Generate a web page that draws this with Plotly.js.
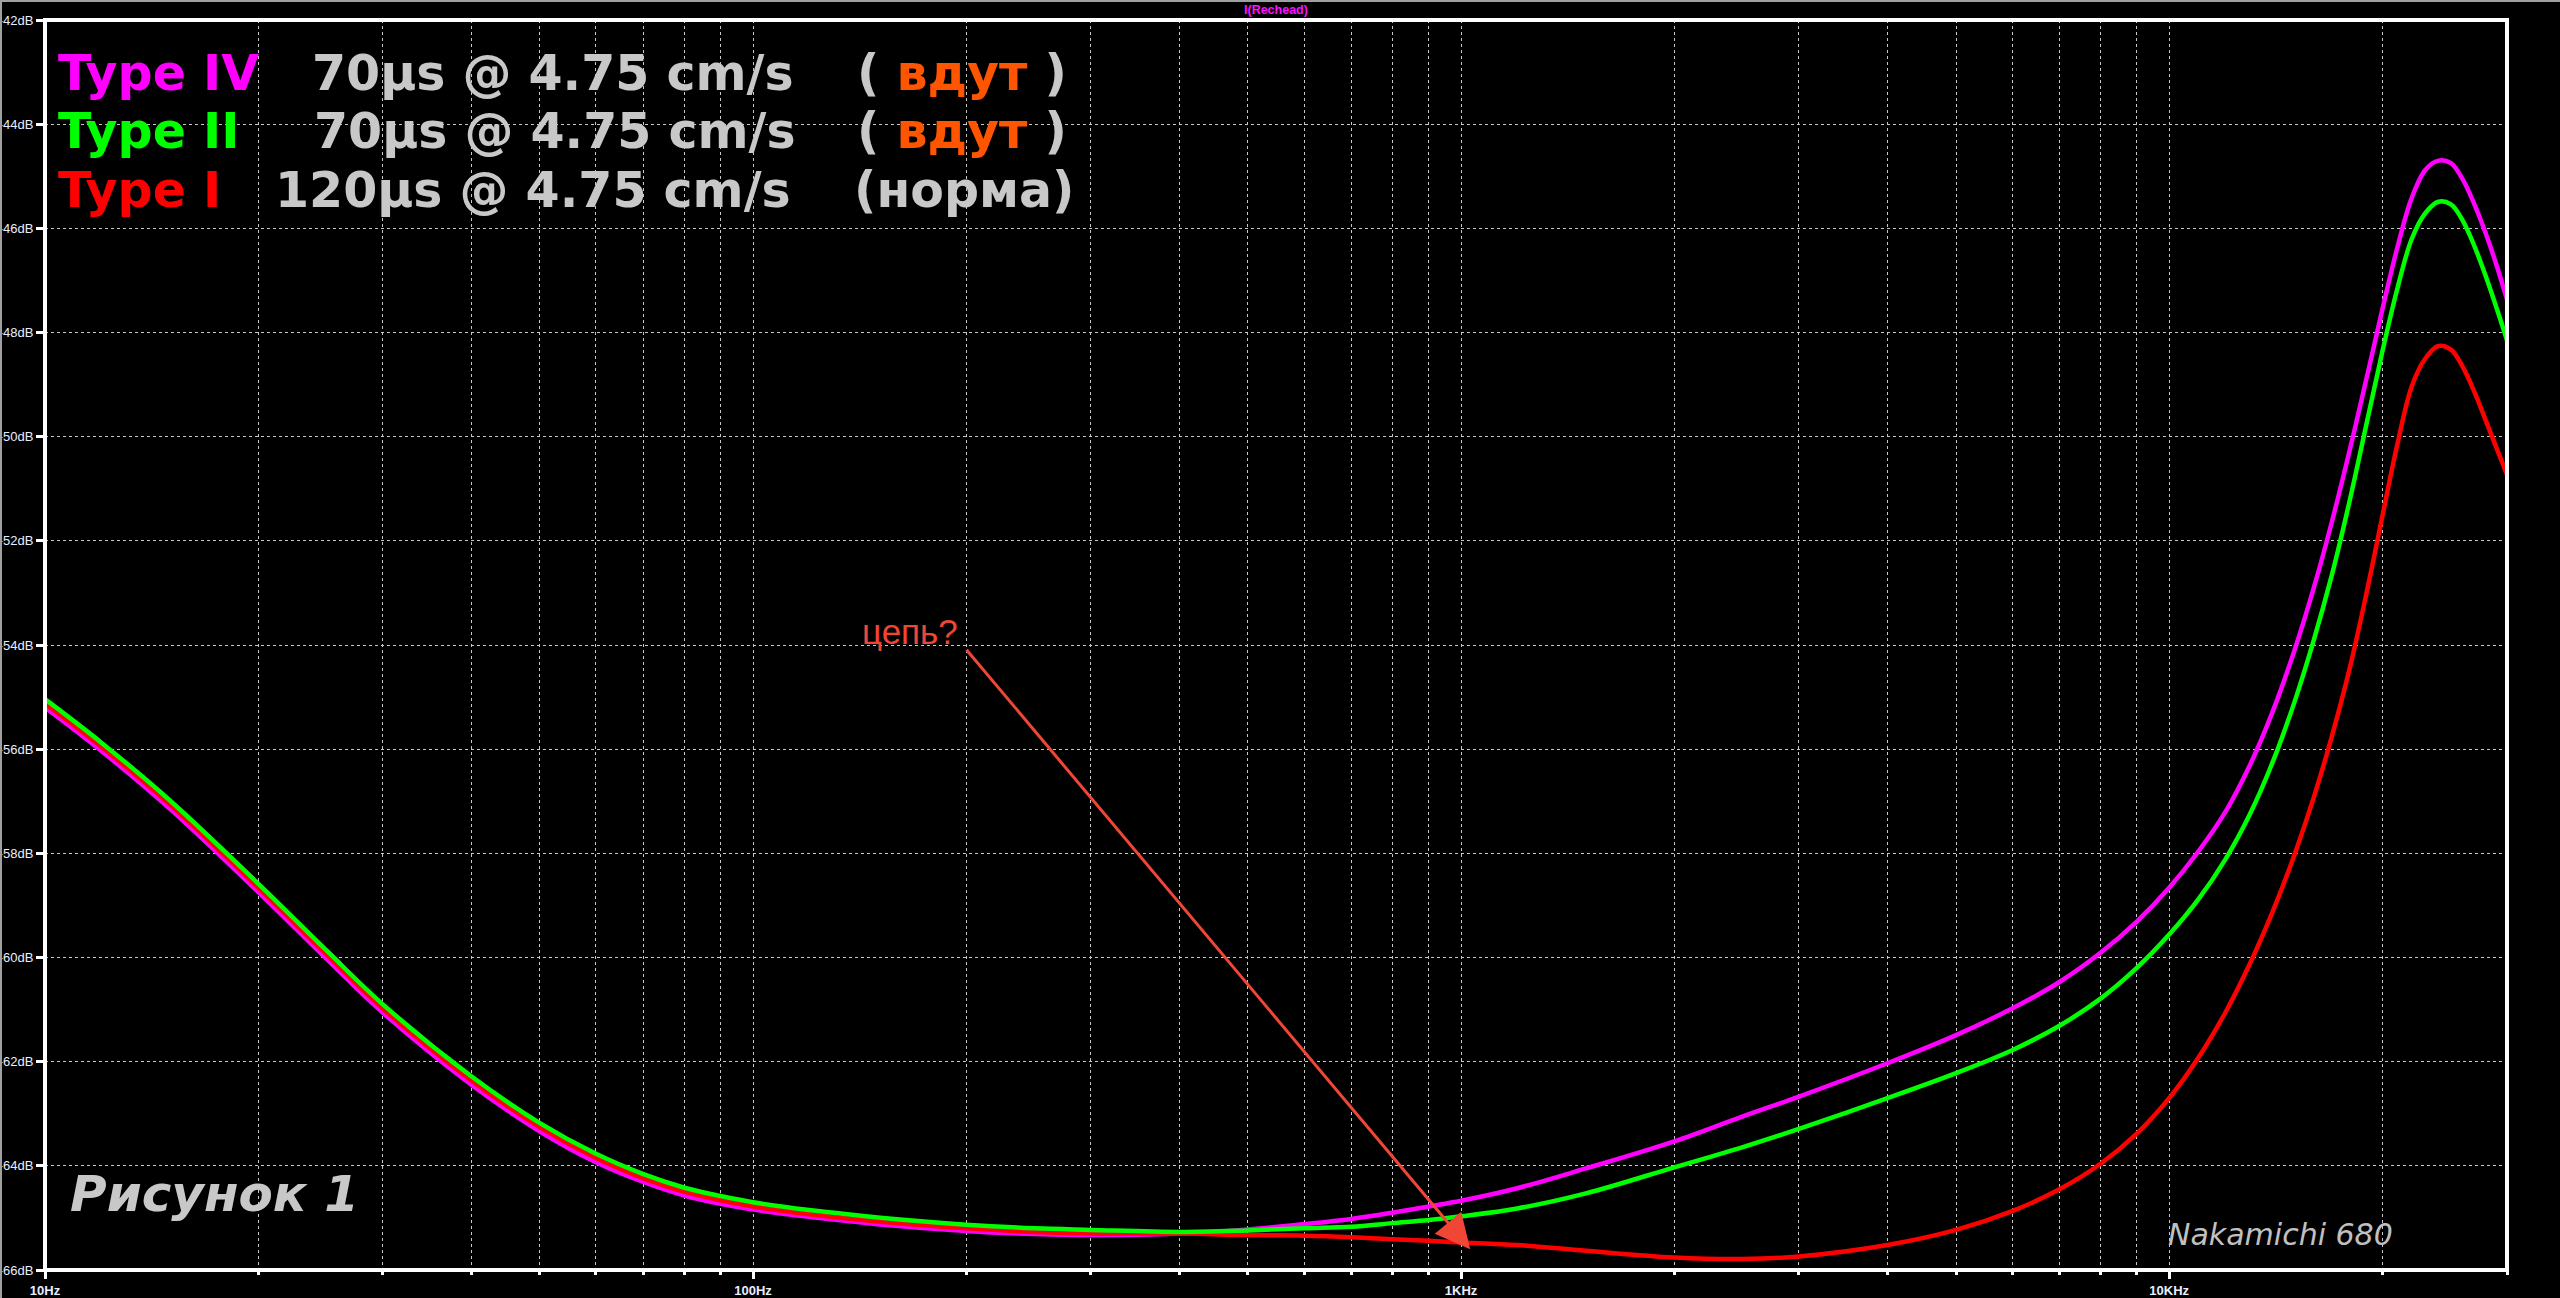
<!DOCTYPE html>
<html>
<head>
<meta charset="utf-8">
<script src="https://cdn.plot.ly/plotly-3.0.1.min.js"></script>
<style>
  html, body { margin: 0; padding: 0; background: #000; }
  #chart { width: 2560px; height: 1298px; }
</style>
</head>
<body>
<div id="chart"></div>
<script>
// ---------- data ----------
const freqHz = [10,12,15,20,25,30,40,50,60,70,80,90,100,120,150,200,250,300,400,500,600,700,800,900,
  1000,1200,1500,2000,2500,3000,4000,5000,6000,7000,8000,9000,10000,11000,12000,13000,14000,15000,
  16000,17000,18000,19000,20000,21000,22000,23000,24000,25000,26000,27000,28000,29000,30000];

const typeIV_dB = [-55.20,-56.03,-57.14,-58.74,-60.03,-61.06,-62.44,-63.34,-63.93,-64.31,-64.57,-64.73,
  -64.84,-64.98,-65.12,-65.25,-65.31,-65.33,-65.30,-65.22,-65.12,-65.02,-64.90,-64.78,
  -64.67,-64.43,-64.05,-63.53,-63.05,-62.67,-62.03,-61.49,-60.98,-60.47,-59.91,-59.31,-58.66,
  -57.96,-57.21,-56.31,-55.28,-54.14,-52.91,-51.60,-50.24,-48.88,-47.56,
  -46.37,-45.42,-44.88,-44.70,-44.75,-45.07,-45.55,-46.10,-46.71,-47.37];

const typeII_dB = [-55.04,-55.87,-56.98,-58.58,-59.87,-60.90,-62.28,-63.18,-63.77,-64.16,-64.42,-64.58,
  -64.70,-64.85,-64.99,-65.13,-65.20,-65.23,-65.27,-65.24,-65.20,-65.17,-65.10,-65.04,
  -64.97,-64.82,-64.53,-64.03,-63.64,-63.29,-62.70,-62.22,-61.78,-61.31,-60.79,-60.20,-59.56,
  -58.88,-58.12,-57.25,-56.25,-55.13,-53.91,-52.62,-51.21,-49.75,-48.37,
  -47.16,-46.21,-45.71,-45.49,-45.54,-45.86,-46.35,-46.92,-47.53,-48.15];

const typeI_dB = [-55.12,-55.95,-57.06,-58.66,-59.95,-60.98,-62.36,-63.26,-63.85,-64.24,-64.50,-64.66,
  -64.78,-64.93,-65.07,-65.20,-65.27,-65.30,-65.30,-65.33,-65.34,-65.37,-65.41,-65.44,
  -65.47,-65.52,-65.63,-65.76,-65.79,-65.74,-65.52,-65.23,-64.87,-64.45,-63.96,-63.38,-62.70,
  -61.92,-61.06,-60.12,-59.12,-58.06,-56.93,-55.72,-54.43,-53.00,-51.53,
  -50.15,-49.04,-48.50,-48.26,-48.33,-48.67,-49.15,-49.69,-50.22,-50.73];

const xMajorVals = [10, 100, 1000, 10000];
const xMajorText = ["10Hz", "100Hz", "1KHz", "10KHz"];
const xMinorVals = [20,30,40,50,60,70,80,90,200,300,400,500,600,700,800,900,
  2000,3000,4000,5000,6000,7000,8000,9000,20000,30000];
const yTickVals = [-42,-44,-46,-48,-50,-52,-54,-56,-58,-60,-62,-64,-66];
const yTickText = yTickVals.map(v => v + "dB");

const seriesNames = ["Type IV", "Type I", "Type II"];
const arrowTipHz = 1030, arrowTipDb = -65.6;

// ---------- layout helpers ----------
const L = 45, T = 20, W = 2462, H = 1250;
const px = x => (x - L) / W;
const py = y => (T + H - y) / H;

const GRAY = "#c8c8c8";
const ORANGE = "#ff5500";
const DJ = "DejaVu Sans";

function line(name, y, color) {
  return {
    x: freqHz, y: y, name: name, type: "scatter", mode: "lines",
    line: { color: color, width: 4.5, shape: "spline", smoothing: 1.0 },
    hoverinfo: "skip"
  };
}
const traces = [
  line(seriesNames[0], typeIV_dB, "#ff00ff"),
  line(seriesNames[1], typeI_dB, "#ff0000"),
  line(seriesNames[2], typeII_dB, "#00ff00")
];

function txt(x, yc, text, size, color, opts) {
  opts = opts || {};
  return {
    xref: "paper", yref: "paper", x: px(x), y: py(yc),
    xanchor: opts.xanchor || "left", yanchor: "middle",
    text: text, showarrow: false,
    font: { family: opts.family || DJ, size: size, color: color,
            weight: opts.weight || "normal", style: opts.style || "normal" }
  };
}

const big = 49;
const annotations = [
  // title
  { xref: "paper", yref: "paper", x: 0.5, y: py(10), xanchor: "center", yanchor: "middle",
    text: "I(Rechead)", showarrow: false,
    font: { family: "Liberation Sans, Arial", size: 12.5, color: "#ff10ff", weight: "bold" } },
  // legend lines
  txt(56, 73, "Type IV", big, "#ff00ff", { weight: "bold" }),
  txt(310, 73, "70µs @ 4.75 cm/s", big, GRAY, { weight: "bold" }),
  txt(855, 73, "( <span style='color:" + ORANGE + "'>вдут</span> )", big, GRAY, { weight: "bold" }),
  txt(56, 131, "Type II", big, "#00ff00", { weight: "bold" }),
  txt(312, 131, "70µs @ 4.75 cm/s", big, GRAY, { weight: "bold" }),
  txt(855, 131, "( <span style='color:" + ORANGE + "'>вдут</span> )", big, GRAY, { weight: "bold" }),
  txt(56, 190, "Type I", big, "#ff0000", { weight: "bold" }),
  txt(273, 190, "120µs @ 4.75 cm/s", big, GRAY, { weight: "bold" }),
  txt(852, 190, "(норма)", big, GRAY, { weight: "bold" }),
  // figure label
  txt(68, 1194, "Рисунок 1", 50, GRAY, { weight: "bold", style: "italic" }),
  // brand
  txt(2166, 1234, "Nakamichi 680", 30, "#c0c0c0", { style: "italic" }),
  // chain question
  txt(860, 631, "цепь?", 35, "#ef4636", { family: "Liberation Sans, Arial" }),
  // arrow
  { xref: "x", yref: "y", x: Math.log10(arrowTipHz), y: arrowTipDb, text: "",
    showarrow: true, arrowhead: 2, arrowsize: 2.3, arrowwidth: 3, arrowcolor: "#ef4636",
    ax: -505, ay: -601, standoff: 0 }
];

const layout = {
  width: 2560, height: 1298,
  paper_bgcolor: "#000", plot_bgcolor: "#000",
  margin: { l: L, r: 2560 - L - W, t: T, b: 1298 - T - H, pad: 0 },
  showlegend: false,
  font: { family: "Liberation Sans, Arial", color: "#e8eeff" },
  xaxis: {
    type: "log", range: [1, Math.log10(30000)],
    tickmode: "array", tickvals: xMajorVals, ticktext: xMajorText,
    ticks: "outside", ticklen: 8, tickwidth: 3, tickcolor: "#ffffff",
    tickfont: { family: "Liberation Sans, Arial", size: 13, color: "#e8eeff", weight: "bold" },
    showgrid: true, gridcolor: "#c8c8c8", gridwidth: 1, griddash: "3px,3px",
    minor: { tickmode: "array", tickvals: xMinorVals, ticks: "outside", ticklen: 4,
             tickwidth: 3, tickcolor: "#ffffff", showgrid: true, gridcolor: "#c8c8c8",
             gridwidth: 1, griddash: "3px,3px" },
    showline: false, zeroline: false, fixedrange: true
  },
  yaxis: {
    range: [-66, -42],
    tickmode: "array", tickvals: yTickVals, ticktext: yTickText,
    ticks: "outside", ticklen: 8, tickwidth: 3, tickcolor: "#ffffff",
    tickfont: { family: "Liberation Sans, Arial", size: 13, color: "#e8eeff" },
    showgrid: true, gridcolor: "#c8c8c8", gridwidth: 1, griddash: "3px,3px",
    showline: false, zeroline: false, fixedrange: true
  },
  shapes: [
    { type: "rect", xref: "paper", yref: "paper", x0: 0, x1: 1, y0: 0, y1: 1,
      line: { color: "#ffffff", width: 4 }, layer: "above" },
    { type: "line", xref: "paper", yref: "paper", x0: px(1), x1: px(1), y0: py(0), y1: py(1298),
      line: { color: "#a0a0a0", width: 2 } },
    { type: "line", xref: "paper", yref: "paper", x0: px(0), x1: px(2560), y0: py(1), y1: py(1),
      line: { color: "#a0a0a0", width: 2 } }
  ],
  annotations: annotations
};

Plotly.newPlot("chart", traces, layout, { staticPlot: true, displayModeBar: false });
</script>
</body>
</html>
